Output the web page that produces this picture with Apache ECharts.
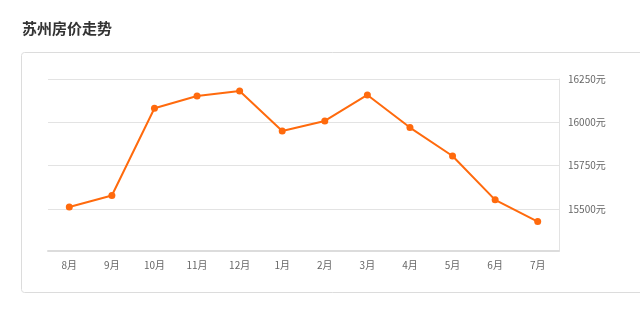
<!DOCTYPE html>
<html><head><meta charset="utf-8">
<script src="https://cdn.jsdelivr.net/npm/echarts@6/dist/echarts.min.js"></script>
<style>html,body{margin:0;padding:0;background:#fff}#c{width:640px;height:311px}</style>
</head><body><div id="c"></div>
<script>
var titleText = '苏州房价走势';
var months = ['8月','9月','10月','11月','12月','1月','2月','3月','4月','5月','6月','7月'];
var prices = [15512, 15578, 16081, 16152, 16181, 15950, 16008, 16158, 15970, 15806, 15553, 15428];
var yUnit = '元';

var chart = echarts.init(document.getElementById('c'), null, {renderer:'canvas'});
chart.setOption({
  animation: false,
  textStyle: {fontFamily: '"Noto Sans CJK SC", "Noto Sans", sans-serif'},
  title: {
    text: titleText, left: 17, top: 16,
    textStyle: {fontSize: 15, fontWeight: 'bold', color: '#333', fontFamily: '"Noto Sans CJK SC", sans-serif'}
  },
  graphic: [{
    type: 'rect', silent: true,
    shape: {x: 21.5, y: 52.5, width: 640, height: 240, r: 3},
    style: {fill: 'none', stroke: '#dcdcdc', lineWidth: 1}
  }],
  grid: {left: 48, right: 81, top: 79, bottom: 60},
  xAxis: {
    type: 'category', data: months, boundaryGap: true,
    axisLine: {lineStyle: {color: '#dcdcdc', width: 2}},
    axisTick: {alignWithLabel: true, length: 4, lineStyle: {color: '#dcdcdc'}},
    axisLabel: {color: '#666', fontSize: 10, margin: 9}
  },
  yAxis: {
    type: 'value', position: 'right', min: 15258, max: 16250,
    minInterval: 250, maxInterval: 250,
    axisLine: {show: true, lineStyle: {color: '#e3e3e3', width: 1}},
    axisTick: {show: false},
    axisLabel: {color: '#666', fontSize: 10, margin: 9, showMinLabel: false,
      formatter: function(v){ return v + yUnit; }},
    splitLine: {lineStyle: {color: '#e3e3e3', width: 1}}
  },
  series: [{
    type: 'line', data: prices,
    symbol: 'circle', symbolSize: 7,
    lineStyle: {color: '#ff6a0d', width: 2},
    itemStyle: {color: '#ff6a0d'}
  }]
});
</script></body></html>
